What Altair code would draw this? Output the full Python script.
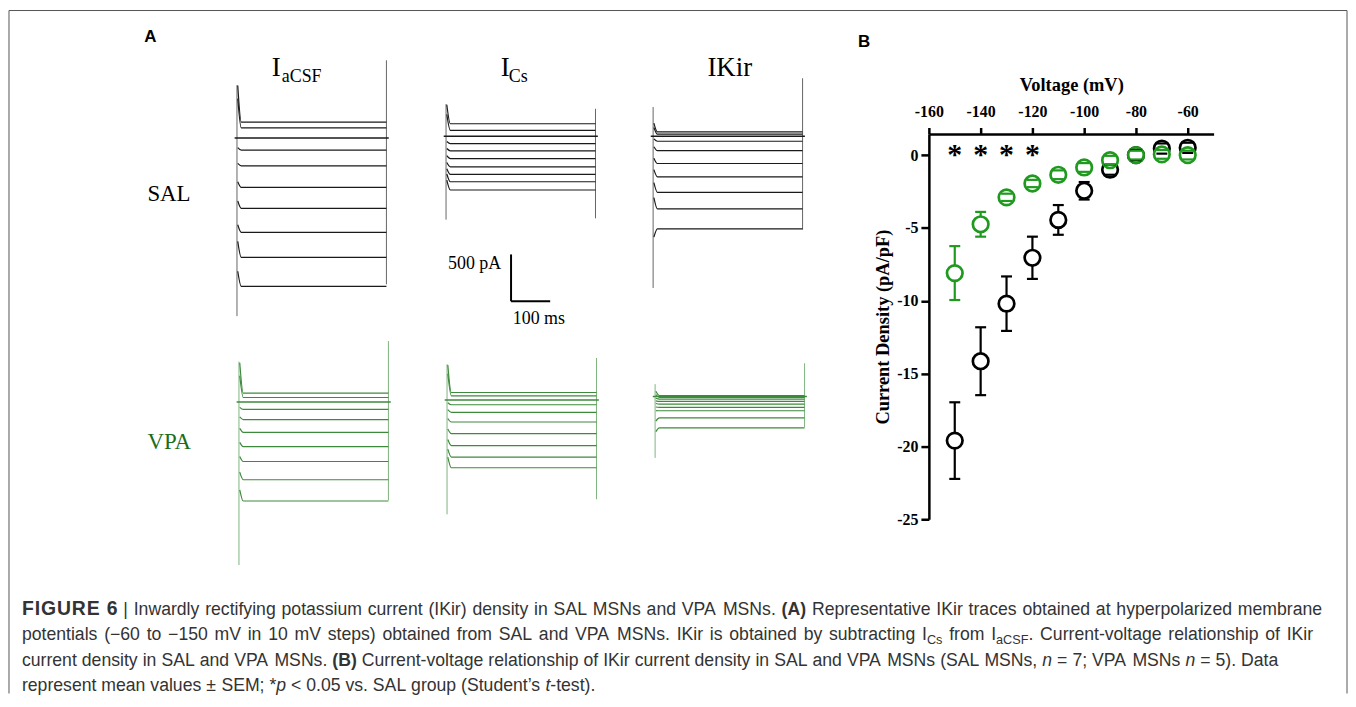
import altair as alt
import pandas as pd

# ---------------- Panel B: IKir current density (pA/pF) ----------------
voltage = [-150, -140, -130, -120, -110, -100, -90, -80, -70, -60]
sal_mean = [-19.6, -14.15, -10.2, -7.05, -4.45, -2.45, -1.0, 0.0, 0.45, 0.5]
sal_sem = [2.63, 2.33, 1.87, 1.45, 1.02, 0.6, 0.35, 0.35, 0.35, 0.35]
vpa_mean = [-8.1, -4.75, -2.9, -1.95, -1.35, -0.85, -0.35, 0.0, 0.05, 0.0]
vpa_sem = [1.85, 0.85, 0.25, 0.25, 0.3, 0.3, 0.3, 0.3, 0.3, 0.3]
sig_voltage = [-150, -140, -130, -120]
x_tick_values = [-160, -140, -120, -100, -80, -60]
y_tick_values = [0, -5, -10, -15, -20, -25]

# ---------------- Panel A: representative traces (pA, relative to holding) ----------------
sal_acsf_level = [170, 107, -131, -298, -529, -752, -1008, -1277, -1586]
sal_acsf_onset = [560, 420, -103, -272, -468, -674, -927, -1105, -1424]
sal_acsf_spike = [564, -1904, 830, -1564]

sal_cs_level = [134, 64, -79, -156, -238, -327, -408, -486, -574]
sal_cs_onset = [337, 234, -56, -131, -206, -281, -347, -403, -468]
sal_cs_spike = [344, -891, 294, -877]

sal_kir_level = [46, 22, -53, -154, -291, -433, -600, -776, -989]
sal_kir_onset = [140, 94, -28, -112, -234, -356, -496, -656, -1077]
sal_kir_spike = [312, -1621, 620, -997]

vpa_acsf_level = [96, 49, -79, -188, -323, -476, -635, -830, -1057]
vpa_acsf_onset = [421, 281, -56, -159, -281, -431, -581, -749, -937]
vpa_acsf_spike = [432, -1741, 652, -1050]

vpa_cs_level = [81, 46, -50, -132, -234, -359, -486, -609, -723]
vpa_cs_onset = [375, 281, -28, -103, -197, -309, -421, -524, -609]
vpa_cs_spike = [383, -1221, 450, -1060]

vpa_kir_level = [10, -10, -28, -53, -81, -117, -152, -229, -336]
vpa_kir_onset = [56, 19, -19, -47, -75, -112, -150, -262, -375]
vpa_kir_spike = [132, -656, 355, -330]

pulse_ms = 382
scale_bar_pa = 500
scale_bar_ms = 100

# ---------------- layout (pixels of the page) ----------------
OX, OY = 932, 132          # plot origin of panel B
W, H = 286, 387
GREEN = "#1f9a1f"
GREEN_TR = "#3d8a3d"
GREEN_TXT = "#1a6e1a"
PXMS = 0.393               # px per ms in panel A
PXPA = 0.094               # px per pA in panel A
TX0, TY0 = 237, 136        # page position of first trace panel (onset, holding level)

panel_pos = {
    ("SAL", "aCSF"): (237, 136), ("SAL", "Cs"): (447, 134.3), ("SAL", "Kir"): (655, 134.3),
    ("VPA", "aCSF"): (239, 401.3), ("VPA", "Cs"): (448, 399.3), ("VPA", "Kir"): (657, 395.7),
}
panels = [
    ("SAL", "aCSF", sal_acsf_level, sal_acsf_onset, sal_acsf_spike),
    ("SAL", "Cs", sal_cs_level, sal_cs_onset, sal_cs_spike),
    ("SAL", "Kir", sal_kir_level, sal_kir_onset, sal_kir_spike),
    ("VPA", "aCSF", vpa_acsf_level, vpa_acsf_onset, vpa_acsf_spike),
    ("VPA", "Cs", vpa_cs_level, vpa_cs_onset, vpa_cs_spike),
    ("VPA", "Kir", vpa_kir_level, vpa_kir_onset, vpa_kir_spike),
]

tr_rows, sp_rows, bl_rows = [], [], []
for grp, sol, lev, ons, spk in panels:
    px, py = panel_pos[(grp, sol)]
    dt = (px - TX0) / PXMS
    dp = (TY0 - py) / PXPA
    for i, (lv, on) in enumerate(zip(lev, ons)):
        tid = f"{grp}-{sol}-{i}"
        for t, p in ((2, on), (11, lv), (pulse_ms, lv)):
            tr_rows.append({"g": grp, "id": tid, "t": t + dt, "p": p + dp})
    sp_rows.append({"g": grp, "t": dt, "p1": spk[0] + dp, "p2": spk[1] + dp})
    sp_rows.append({"g": grp, "t": pulse_ms + dt, "p1": spk[2] + dp, "p2": spk[3] + dp})
    bl_rows.append({"g": grp, "t1": -6 + dt, "t2": pulse_ms + 6 + dt, "p": dp})

tr = pd.DataFrame(tr_rows)
sp = pd.DataFrame(sp_rows)
bl = pd.DataFrame(bl_rows)

sb_t = (512.3 - TX0) / PXMS
sb_p = (TY0 - 300) / PXPA
sb = pd.DataFrame({"t1": [sb_t, sb_t], "t2": [sb_t, sb_t + scale_bar_ms],
                   "p1": [sb_p, sb_p], "p2": [sb_p + scale_bar_pa, sb_p]})

xs = alt.Scale(domain=[0, 1000], range=[TX0 - OX, TX0 - OX + 1000 * PXMS], nice=False, zero=False)
ys = alt.Scale(domain=[0, 1000], range=[TY0 - OY, TY0 - OY - 1000 * PXPA], nice=False, zero=False)


def xa(f):
    return alt.X(f"{f}:Q", scale=xs, axis=None)


def ya(f):
    return alt.Y(f"{f}:Q", scale=ys, axis=None)


A_layers = []
for grp, trc, spc in (("SAL", "#1a1a1a", "#666666"), ("VPA", GREEN_TR, "#7fb37f")):
    A_layers.append(alt.Chart(sp[sp.g == grp]).mark_rule(color=spc, strokeWidth=1)
                    .encode(x=xa("t"), y=ya("p1"), y2="p2"))
    A_layers.append(alt.Chart(bl[bl.g == grp]).mark_rule(color=trc, strokeWidth=1.5)
                    .encode(x=xa("t1"), x2="t2", y=ya("p")))
    A_layers.append(alt.Chart(tr[tr.g == grp]).mark_line(color=trc, strokeWidth=1.2, interpolate="monotone")
                    .encode(x=xa("t"), y=ya("p"), detail="id:N"))
A_layers.append(alt.Chart(sb).mark_rule(color="black", strokeWidth=2)
                .encode(x=xa("t1"), x2="t2", y=ya("p1"), y2="p2"))
panelA = alt.layer(*A_layers)

# ---------------- Panel B chart ----------------
dfB = pd.DataFrame({"v": voltage * 2, "m": sal_mean + vpa_mean, "s": sal_sem + vpa_sem,
                    "g": ["SAL"] * 10 + ["VPA"] * 10})
dfB["lo"] = dfB.m - dfB.s
dfB["hi"] = dfB.m + dfB.s
caps = pd.concat([dfB.assign(c=dfB.lo), dfB.assign(c=dfB.hi)])
stars = pd.DataFrame({"v": sig_voltage, "y": [0] * len(sig_voltage)})

bx = alt.Scale(domain=[-160, -50], nice=False, zero=False)
by = alt.Scale(domain=[-25, 1.45], nice=False, zero=False)
x_axis = alt.Axis(orient="top", values=x_tick_values, title="Voltage (mV)", labelExpr="'' + datum.value",
                  tickSize=6.5, labelPadding=8, labelFlush=False, titlePadding=9)
y_axis = alt.Axis(orient="left", values=y_tick_values, title="Current Density (pA/pF)",
                  labelExpr="'' + datum.value", tickSize=8, labelPadding=3, labelFlush=False, titlePadding=4)


def xb(f):
    return alt.X(f"{f}:Q", scale=bx, axis=x_axis)


def yb(f):
    return alt.Y(f"{f}:Q", scale=by, axis=y_axis)


B_layers = []
for grp, col in (("SAL", "black"), ("VPA", GREEN)):
    B_layers.append(alt.Chart(dfB[dfB.g == grp]).mark_rule(color=col, strokeWidth=2.2)
                    .encode(x=xb("v"), y=yb("lo"), y2="hi"))
for grp, col in (("SAL", "black"), ("VPA", GREEN)):
    B_layers.append(alt.Chart(dfB[dfB.g == grp]).mark_point(shape="circle", size=245, fill="white", fillOpacity=1,
                                                         stroke=col, strokeWidth=2.7, opacity=1)
                    .encode(x=xb("v"), y=yb("m")))
for grp, col in (("SAL", "black"), ("VPA", GREEN)):
    B_layers.append(alt.Chart(caps[caps.g == grp]).mark_tick(orient="horizontal", color=col, size=11,
                                                          thickness=2.2, opacity=1)
                    .encode(x=xb("v"), y=yb("c")))
B_layers.append(alt.Chart(stars).mark_text(text="*", font="Liberation Serif", fontWeight="bold", fontSize=30,
                                           color="black", baseline="alphabetic", dy=9)
                .encode(x=xb("v"), y=yb("y")))
panelB = alt.layer(*B_layers)

# ---------------- annotations ----------------
ONE = pd.DataFrame({"k": [0]})


def label(text, X, Y, size, font="Liberation Serif", weight="normal", color="black", align="left",
          style="normal"):
    return alt.Chart(ONE).mark_text(text=text, fontSize=size, font=font, fontWeight=weight, fontStyle=style,
                                    color=color, align=align, baseline="alphabetic").encode(
        x=alt.value(X - OX), y=alt.value(Y - OY))


def rule(x1, y1, x2, y2, color="#555555", w=1):
    return alt.Chart(ONE).mark_rule(color=color, strokeWidth=w).encode(
        x=alt.value(x1 - OX), x2=alt.value(x2 - OX), y=alt.value(y1 - OY), y2=alt.value(y2 - OY))


ann = [
    rule(8, 8, 1352, 8), rule(8, 8, 8, 694), rule(1352, 8, 1352, 694),
    label("A", 150, 40, 17, font="Liberation Sans", weight="bold", align="center"),
    label("B", 867, 45, 17, font="Liberation Sans", weight="bold", align="center"),
    label("I", 272, 74, 27), label("aCSF", 282, 80, 18),
    label("I", 502, 74, 27), label("Cs", 510, 80, 18),
    label("IKir", 732, 74, 27, align="center"),
    label("SAL", 147, 199, 23), label("VPA", 147, 448, 23, color=GREEN_TXT),
    label("500 pA", 449, 268, 18), label("100 ms", 514, 323, 18),
]

# caption, laid out word by word with Arial-compatible (Liberation Sans) metrics
REG = {" ": 278, "!": 278, '"': 355, "#": 556, "$": 556, "%": 889, "&": 667, "'": 191, "(": 333, ")": 333,
       "*": 389, "+": 584, ",": 278, "-": 333, ".": 278, "/": 278, ":": 278, ";": 278, "<": 584, "=": 584,
       ">": 584, "?": 556, "|": 260, "±": 584, "−": 584, "’": 222}
for d in "0123456789":
    REG[d] = 556
for ch, w in zip("ABCDEFGHIJKLMNOPQRSTUVWXYZ",
                 [667, 667, 722, 722, 667, 611, 778, 722, 278, 500, 667, 556, 833, 722, 778, 667, 778, 722, 667,
                  611, 722, 667, 944, 667, 667, 611]):
    REG[ch] = w
for ch, w in zip("abcdefghijklmnopqrstuvwxyz",
                 [556, 556, 500, 556, 556, 278, 556, 556, 222, 222, 500, 222, 833, 556, 556, 556, 556, 333, 500,
                  278, 556, 500, 722, 500, 500, 500]):
    REG[ch] = w
BOLD = dict(REG)
for ch, w in zip("ABCDEFGHIJKLMNOPQRSTUVWXYZ",
                 [722, 722, 722, 722, 667, 611, 778, 722, 278, 556, 722, 611, 833, 722, 778, 667, 778, 722, 667,
                  611, 722, 667, 944, 667, 667, 611]):
    BOLD[ch] = w


def em(s, kind):
    tab = BOLD if kind in ("b", "B") else REG
    return sum(tab.get(c, 556) for c in s) / 1000.0


caption = [
    [("FIGURE 6", "B"), (" | Inwardly rectifying potassium current (IKir) density in SAL MSNs and VPA MSNs. ", "r"),
     ("(A)", "b"), (" Representative IKir traces obtained at hyperpolarized membrane", "r")],
    [("potentials (−60 to −150 mV in 10 mV steps) obtained from SAL and VPA MSNs. IKir is obtained by subtracting I",
      "r"), ("Cs", "s"), (" from I", "r"), ("aCSF", "s"), (". Current-voltage relationship of IKir", "r")],
    [("current density in SAL and VPA MSNs. ", "r"), ("(B)", "b"),
     (" Current-voltage relationship of IKir current density in SAL and VPA MSNs (SAL MSNs, ", "r"), ("n", "i"),
     (" = 7; VPA MSNs ", "r"), ("n", "i"), (" = 5). Data", "r")],
    [("represent mean values ± SEM; *", "r"), ("p", "i"), (" < 0.05 vs. SAL group (Student’s ", "r"), ("t", "i"),
     ("-test).", "r")],
]
CAP_X0 = 21
CAP_END = [1327, 1318, 1283, 597]   # right end of each caption line
FIG_W = 96                          # width of the "FIGURE 6" label
CAP_BASE = [615, 640.5, 666, 691.5]
SUB = 0.72
FS = (CAP_END[3] - CAP_X0) / sum(em(s, k) for s, k in caption[3])
FIG_FS = FS * 1.1
TRACK = (FIG_W - em("FIGURE 6", "b") * FIG_FS) / 7


def seg_size(k):
    if k == "s":
        return FS * SUB
    if k == "B":
        return FIG_FS
    return FS


for line, yb0, xend in zip(caption, CAP_BASE, CAP_END):
    natural = sum(em(s, k) * seg_size(k) for s, k in line) + (TRACK * 7 if line[0][1] == "B" else 0)
    n_gaps = sum(s.count(" ") for s, k in line if k != "B")
    extra = (xend - CAP_X0 - natural) / max(n_gaps, 1)
    cur = CAP_X0
    for s, k in line:
        size = seg_size(k)
        if k == "B":
            for ch in s:
                if ch != " ":
                    ann.append(label(ch, cur, yb0, size, font="Liberation Sans", weight="bold", color="#333333"))
                cur += em(ch, k) * size + TRACK
            cur -= TRACK
            continue
        parts = s.split(" ")
        for j, word in enumerate(parts):
            if word:
                ann.append(label(word, cur, yb0 + (3.5 if k == "s" else 0), size, font="Liberation Sans",
                                 weight="bold" if k == "b" else "normal",
                                 style="italic" if k == "i" else "normal", color="#333333"))
                cur += em(word, k) * size
            if j < len(parts) - 1:
                cur += em(" ", k) * size + extra

chart = alt.layer(panelA, panelB, *ann).resolve_scale(x="independent", y="independent").properties(
    width=W, height=H, padding=0
).configure_view(stroke=None).configure_axis(
    domainColor="black", domainWidth=2.5, tickColor="black", tickWidth=2.5, grid=False,
    labelFont="Liberation Serif", labelFontWeight="bold", labelFontSize=16, labelColor="black",
    titleFont="Liberation Serif", titleFontWeight="bold", titleFontSize=18.5, titleColor="black"
)

chart.save("out.html", embed_options={"renderer": "svg", "actions": False})
